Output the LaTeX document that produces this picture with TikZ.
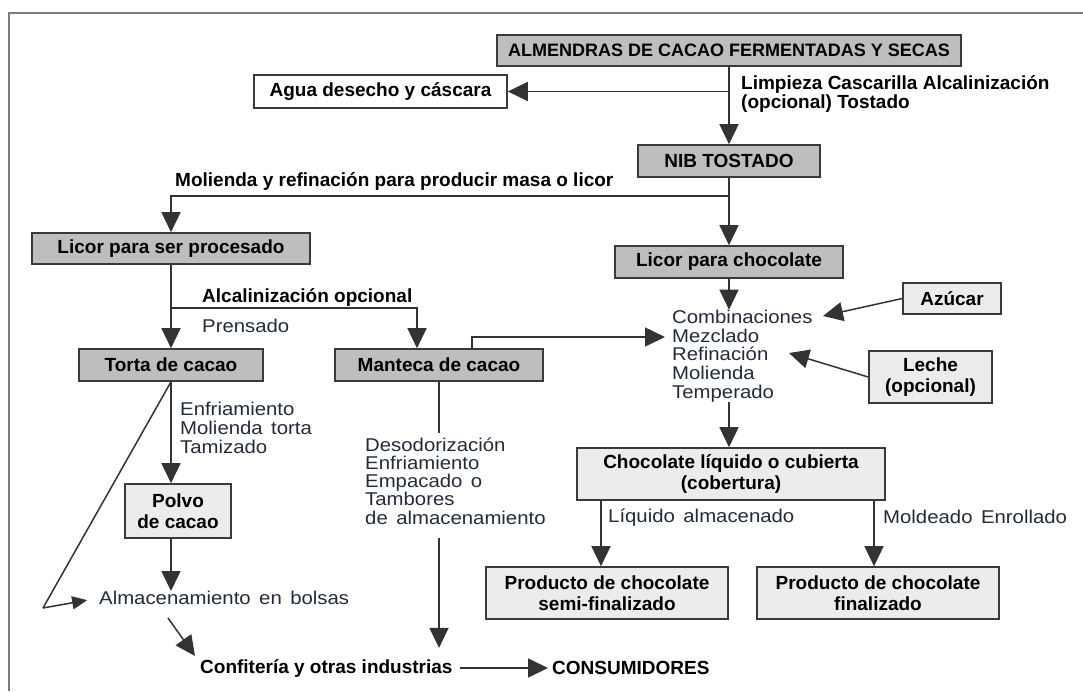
\documentclass[tikz,border=0pt]{standalone}
\usepackage{fontspec}
\usetikzlibrary{arrows.meta,calc}
\newfontfamily\lsb{Liberation Sans}
\newfontfamily\lsr{Liberation Sans}[FakeStretch=1.1,WordSpace=1.5]
\definecolor{darkfill}{HTML}{BEBEBE}
\definecolor{lightfill}{HTML}{ECECEC}
\definecolor{edgec}{HTML}{3A3A3A}
\definecolor{wirec}{HTML}{333333}
\definecolor{framec}{HTML}{7A7A7A}
\definecolor{regtext}{HTML}{232A3A}
\begin{document}
\begin{tikzpicture}[x=1pt,y=-1pt,
  box/.style={draw=edgec,line width=1.6pt,inner sep=0pt,align=center,text=black,font=\lsb\bfseries\fontsize{19}{21}\selectfont},
  darkbox/.style={box,fill=darkfill},
  lightbox/.style={box,fill=lightfill},
  plainbox/.style={box,fill=white},
  blabel/.style={inner sep=0pt,anchor=west,align=left,text=black,font=\lsb\bfseries\fontsize{19}{19}\selectfont},
  rlabel/.style={inner sep=0pt,anchor=west,align=left,text=regtext,font=\lsr\fontsize{18.5}{18.75}\selectfont},
  wire/.style={draw=wirec,line width=1.5pt},
  arr/.style={wire,-{Triangle[length=20pt,width=19pt]}},
  sarr/.style={wire,-{Triangle[length=15pt,width=13pt]}},
]
\useasboundingbox (0,0) rectangle (1083,691);
\draw[framec,line width=2.2pt] (1083,13) -- (9,13) -- (9,691);

% boxes
\node[darkbox,minimum width=464,minimum height=31,font=\lsb\bfseries\fontsize{18}{21}\selectfont] (alm) at (729,50.5) {ALMENDRAS DE CACAO FERMENTADAS Y SECAS};
\node[plainbox,minimum width=253,minimum height=33] (agua) at (380.5,91.5) {Agua desecho y cáscara};
\node[darkbox,minimum width=182,minimum height=32] (nib) at (729,161) {NIB TOSTADO};
\node[darkbox,minimum width=278,minimum height=31] (licser) at (171,248.5) {Licor para ser procesado};
\node[darkbox,minimum width=228,minimum height=32] (licch) at (729,262) {Licor para chocolate};
\node[lightbox,minimum width=98,minimum height=31] (azu) at (952,298.5) {Azúcar};
\node[lightbox,minimum width=123,minimum height=52] (leche) at (930.5,377) {Leche\\(opcional)};
\node[darkbox,minimum width=184,minimum height=32] (torta) at (171,365) {Torta de cacao};
\node[darkbox,minimum width=208,minimum height=32] (mant) at (439,365) {Manteca de cacao};
\node[lightbox,minimum width=106,minimum height=54] (polvo) at (178,511) {Polvo\\de cacao};
\node[lightbox,minimum width=308,minimum height=52] (choc) at (731,474) {Chocolate líquido o cubierta\\(cobertura)};
\node[lightbox,minimum width=242,minimum height=52] (semi) at (607,593) {Producto de chocolate\\semi-finalizado};
\node[lightbox,minimum width=242,minimum height=52] (fin) at (878,593) {Producto de chocolate\\finalizado};

% labels
\node[blabel] (limp) at (741,94) {Limpieza Cascarilla Alcalinización\\(opcional) Tostado};
\node[blabel] (mol) at (175,181) {Molienda y refinación para producir masa o licor};
\node[blabel] (alc) at (202,297) {Alcalinización opcional};
\node[rlabel] (pren) at (202,326) {Prensado};
\node[rlabel,font=\lsr\fontsize{18.5}{19}\selectfont] (enf) at (180,428) {Enfriamiento\\Molienda torta\\Tamizado};
\node[rlabel] (comb) at (672,356) {Combinaciones\\Mezclado\\Refinación\\Molienda\\Temperado};
\node[rlabel,font=\lsr\fontsize{18.5}{18.25}\selectfont] (deso) at (365,481) {Desodorización\\Enfriamiento\\Empacado o\\Tambores\\de almacenamiento};
\node[rlabel] (almac) at (99,598) {Almacenamiento en bolsas};
\node[blabel] (conf) at (200,668) {Confitería y otras industrias};
\node[blabel] (cons) at (552,668) {CONSUMIDORES};
\node[rlabel] (liq) at (608,518) {Líquido almacenado};
\node[rlabel] (mold) at (883,517) {Moldeado Enrollado};

% connectors
\draw[arr] (alm.south) -- (nib.north);
\draw[arr] (alm.south |- agua.east) -- (agua.east);
\draw[arr] (nib.south) -- (licch.north);
\coordinate (mj) at (729,196);
\draw[arr] (mj) -| (licser.north);
\draw[arr] (licser.south) -- (torta.north);
\coordinate (aj) at (171,308);
\draw[arr] (aj) -| ([xshift=-22pt]mant.north);
\coordinate (mt) at (665,337);
\draw[arr] ([xshift=33pt]mant.north) |- (mt);
\draw[arr] (licch.south) -- (licch.south |- comb.north);
\coordinate (azt) at (823,316);
\draw[arr] (azu.west) -- (azt);
\coordinate (lt) at (789,353);
\draw[arr] (leche.west) -- (lt);
\draw[arr] (licch.south |- comb.south) -- (licch.south |- choc.north);
\draw[arr] ([xshift=-6pt]semi.north |- choc.south) -- ([xshift=-6pt]semi.north);
\draw[arr] ([xshift=-4pt]fin.north |- choc.south) -- ([xshift=-4pt]fin.north);
\draw[arr] (torta.south) -- (torta.south |- polvo.north);
\draw[arr] (torta.south |- polvo.south) -- (torta.south |- almac.north);
\coordinate (dk) at (43,608);
\draw[wire] (torta.south) -- (dk);
\draw[sarr,shorten >=12pt] (dk) -- (almac.west);
\coordinate (as) at (168,618);
\coordinate (ct) at (195,656);
\draw[arr] (as) -- (ct);
\draw[arr,shorten <=7pt,shorten >=4pt] (conf.east) -- (cons.west);
\draw[wire,shorten >=4pt] (mant.south) -- (mant.south |- deso.north);
\draw[arr,shorten <=13pt,shorten >=11pt] (mant.south |- deso.south) -- (mant.south |- conf.north);
\end{tikzpicture}
\end{document}
